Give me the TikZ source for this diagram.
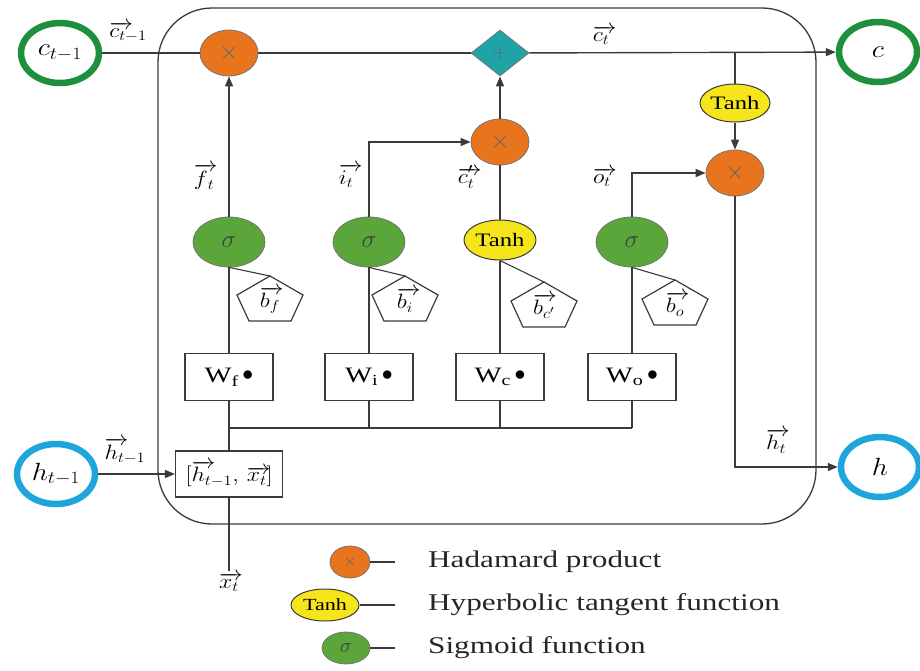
\documentclass[tikz,border=0pt]{standalone}
\usepackage{fontspec}
\setmainfont{Liberation Serif}[FakeStretch=1.3]
\usepackage{graphicx}
\usetikzlibrary{shapes.geometric,arrows.meta,calc}

\definecolor{hadorange}{HTML}{E8741E}
\definecolor{sumteal}{HTML}{1FA3A6}
\definecolor{siggreen}{HTML}{5AA63A}
\definecolor{tanhyellow}{HTML}{F7E51C}
\definecolor{cellring}{HTML}{1E8F3C}
\definecolor{hidring}{HTML}{1EA5DC}
\definecolor{inkline}{HTML}{3A3A3A}

% slightly widened math, to sit with the stretched text face
\newcommand{\wm}[1]{\scalebox{1.15}[1]{$#1$}}
% long vector arrow that keeps the subscript close to the letter
\newcommand{\va}[1]{{\rlap{$\overrightarrow{\phantom{#1}}$}#1}}
\newcommand{\wdot}{\,\raisebox{0.2ex}{\scalebox{1.05}{$\bullet$}}}

% bias pentagon: node name, x, y, label
\newcommand{\biaspent}[4]{%
  \node[lbl] (#1) at (#2,#3) {#4};
  \draw[pentline] ($(#1)+(0,-24)$) coordinate (#1top) -- ($(#1)+(33,-5)$)
    -- ($(#1)+(21,21)$) -- ($(#1)+(-21,21)$) -- ($(#1)+(-33,-5)$) -- cycle;
}

\begin{document}
\begin{tikzpicture}[x=1pt,y=-1pt,
  font=\fontsize{22}{26}\selectfont,
  conn/.style={draw=inkline, line width=1.4pt},
  arr/.style={conn, -{Triangle[length=10pt,width=8pt]}},
  lbl/.style={inner sep=1pt, font=\fontsize{22}{24}\selectfont},
  pentline/.style={draw=inkline, line width=1.2pt},
  mult/.style={ellipse, draw=inkline!70, line width=0.8pt, fill=hadorange,
    minimum width=58pt, minimum height=46pt, inner sep=0pt,
    font=\fontsize{24}{26}\selectfont\color{black!60}},
  sig/.style={ellipse, draw=inkline!70, line width=0.8pt, fill=siggreen,
    minimum width=72pt, minimum height=50pt, inner sep=0pt,
    font=\fontsize{27}{28}\selectfont\color{black!75}},
  tanhnode/.style={ellipse, draw=inkline, line width=1pt, fill=tanhyellow,
    minimum width=70pt, minimum height=38pt, inner sep=0pt,
    font=\fontsize{19}{22}\selectfont},
  sumnode/.style={diamond, draw=inkline!70, line width=0.8pt, fill=sumteal,
    minimum width=58pt, minimum height=46pt, inner sep=0pt,
    font=\fontsize{22}{24}\selectfont\color{black!60}},
  wbox/.style={rectangle, draw=inkline, line width=1.2pt,
    minimum width=88pt, minimum height=47pt, inner sep=0pt},
  ring/.style={ellipse, line width=6.5pt, minimum width=78pt, minimum height=60pt,
    inner sep=0pt, fill=white, font=\fontsize{24}{26}\selectfont},
  legtext/.style={anchor=west, inner xsep=33pt, inner ysep=0pt,
    font=\fontsize{24}{28}\selectfont\color{black!85}}
]
\useasboundingbox (0,0) rectangle (920,670);

% cell frame
\draw[conn, line width=1.3pt, rounded corners=54pt] (158,8) rectangle (816,524);

% outer states
\node[ring, draw=cellring] (cprev) at (60,53) {\wm{c_{t-1}}};
\node[ring, draw=cellring] (cnext) at (878,52) {\wm{c}};
\node[ring, draw=hidring] (hprev) at (56,474) {\wm{h_{t-1}}};
\node[ring, draw=hidring] (hnext) at (880,467) {\wm{h}};

% cell state line
\node[mult] (mf) at (229,53) {$\times$};
\node[sumnode] (add) at (500,53) {$+$};
\coordinate (split) at (735,53);

% output branch
\node[tanhnode] (tcell) at (735,103) {Tanh};
\node[mult] (mo) at (735,173) {$\times$};

% gates
\node[sig] (sf) at (229,242) {$\sigma$};
\node[sig] (si) at (369,242) {$\sigma$};
\node[tanhnode, minimum width=72pt, minimum height=40pt] (tc) at (500,240) {Tanh};
\node[sig] (so) at (632,242) {$\sigma$};
\node[mult] (mc) at (500,142) {$\times$};

% weights
\node[wbox] (wf) at (229,377) {W\textsubscript{f}\wdot};
\node[wbox] (wi) at (369,377) {W\textsubscript{i}\wdot};
\node[wbox] (wc) at (500,377) {W\textsubscript{c}\wdot};
\node[wbox] (wo) at (632,377) {W\textsubscript{o}\wdot};

% concatenated input
\node[wbox, minimum width=107pt, minimum height=46pt] (cat) at (229,474)
  {\wm{[\va{h}_{t-1},\,\va{x}_t]}};
\node[lbl] (xt) at (229,582) {\wm{\va{x}_t}};

% biases
\biaspent{bf}{270}{300}{\wm{\va{b}_f}}
\biaspent{bi}{405}{300}{\wm{\va{b}_i}}
\biaspent{bc}{544}{306}{\wm{\va{b}_{c'}}}
\biaspent{bo}{675}{304}{\wm{\va{b}_o}}

% bus
\coordinate (busL) at (229,428);
\coordinate (busR) at (632,428);

% connectors: cell state
\draw[conn] (cprev) -- (mf);
\draw[conn] (mf) -- (add);
\draw[arr] (add) -- (cnext);
\draw[conn] (split) -- (tcell);
\draw[arr] (tcell) -- (mo);
\draw[arr] (mo.south) |- (hnext.west);

% connectors: gates
\draw[arr] (sf) -- (mf);
\draw[arr] (si.north) |- (mc.west);
\draw[conn] (tc) -- (mc);
\draw[arr] (mc) -- (add);
\draw[arr] (so.north) |- (mo.west);

% connectors: biases
\draw[conn, line width=1.1pt] (sf.south) -- (bftop);
\draw[conn, line width=1.1pt] (si.south) -- (bitop);
\draw[conn, line width=1.1pt] (tc.south) -- (bctop);
\draw[conn, line width=1.1pt] (so.south) -- (botop);

% connectors: weights and inputs
\draw[conn] (wf) -- (sf);
\draw[conn] (wi) -- (si);
\draw[conn] (wc) -- (tc);
\draw[conn] (wo) -- (so);
\draw[conn] (busL) -- (busR);
\draw[conn] (wi.south) -- (wi.south |- busL);
\draw[conn] (wc.south) -- (wc.south |- busL);
\draw[conn] (wo.south) -- (wo.south |- busL);
\draw[conn] (cat.north) -- (wf.south);
\draw[arr] (hprev) -- (cat);
\draw[conn] (xt.north) -- (cat.south);

% signal labels
\node[lbl] at (128,32) {\wm{\va{c}_{t-1}}};
\node[lbl] at (601,35) {\wm{\va{c}_t}};
\node[lbl] at (204,177) {\wm{\va{f}_t}};
\node[lbl] at (346,176) {\wm{\va{i}_t}};
\node[lbl] at (466,177) {\wm{\va{c}'_t}};
\node[lbl] at (602,177) {\wm{\va{o}_t}};
\node[lbl] at (125,451) {\wm{\va{h}_{t-1}}};
\node[lbl] at (776,441) {\wm{\va{h}_t}};

% legend
\node[mult, minimum width=40pt, minimum height=32pt,
  font=\fontsize{16}{18}\selectfont\color{black!60}] (lm) at (350,562) {$\times$};
\node[legtext] (lmt) at (395,562) {Hadamard product};
\draw[conn] (lm) -- (lmt.west);
\node[tanhnode, minimum width=68pt, minimum height=32pt,
  font=\fontsize{17}{20}\selectfont] (lt) at (325,605) {Tanh};
\node[legtext] (ltt) at (395,605) {Hyperbolic tangent function};
\draw[conn] (lt) -- (ltt.west);
\node[sig, minimum width=48pt, minimum height=32pt,
  font=\fontsize{21}{22}\selectfont\color{black!75}] (ls) at (346,648) {$\sigma$};
\node[legtext] (lst) at (395,648) {Sigmoid function};
\draw[conn] (ls) -- (lst.west);
\end{tikzpicture}
\end{document}
